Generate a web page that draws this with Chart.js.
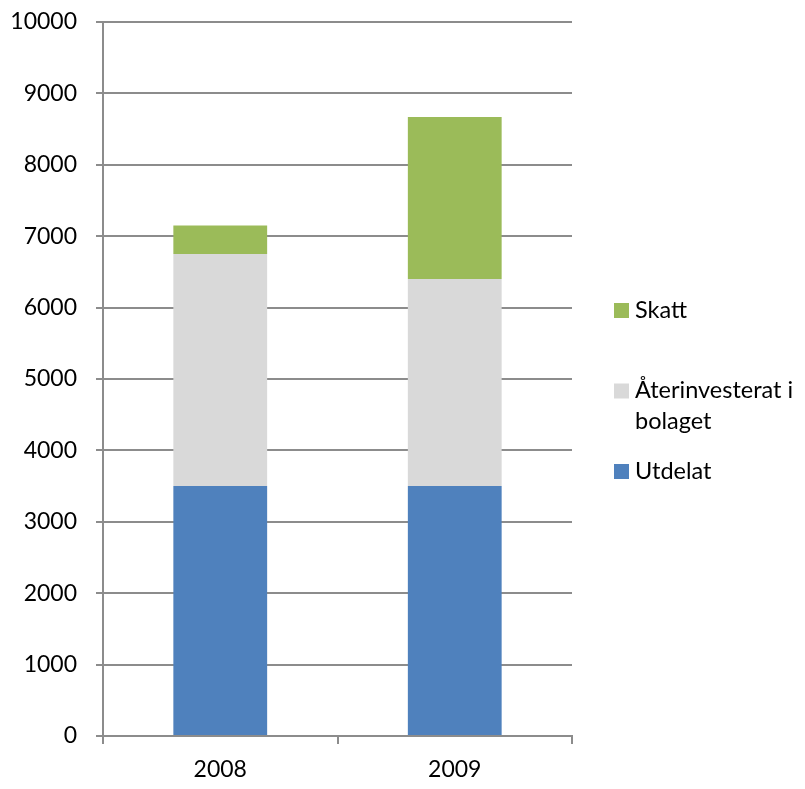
<!DOCTYPE html>
<html>
<head>
<meta charset="utf-8">
<script src="https://cdn.jsdelivr.net/npm/chart.js@4"></script>
<style>
  html, body { margin: 0; padding: 0; background: #fff; }
  #wrap { width: 805px; height: 789px; }
</style>
</head>
<body>
<div id="wrap"><canvas id="chart"></canvas></div>
<script>
// Kategorier och serier
const years = ["2008", "2009"];
const utdelat = [3500, 3500];
const aterinvesterat = [3250, 2900];
const skatt = [400, 2270];
const yTicks = [0, 1000, 2000, 3000, 4000, 5000, 6000, 7000, 8000, 9000, 10000];

const FONT = "Lato, 'Open Sans', sans-serif";
const gridColor = '#8c8c8c';

// Egen legend till höger, med radbrytning som i Excel
const sideLegend = {
  id: 'sideLegend',
  afterDraw(chart) {
    const ctx = chart.ctx;
    const area = chart.chartArea;
    const boxX = area.right + 42;
    const textX = boxX + 21;
    const maxW = chart.width - textX;
    let y = (area.top + area.bottom) / 2 - 69;
    ctx.save();
    ctx.font = '23.5px ' + FONT;
    ctx.textBaseline = 'middle';
    ctx.textAlign = 'left';
    const items = chart.data.datasets.slice().reverse();
    items.forEach(ds => {
      // bryt texten efter bredd
      const words = ds.label.split(' ');
      const lines = [];
      let line = '';
      words.forEach(w => {
        const test = line ? line + ' ' + w : w;
        if (ctx.measureText(test).width > maxW && line) {
          lines.push(line);
          line = w;
        } else {
          line = test;
        }
      });
      lines.push(line);
      ctx.fillStyle = ds.backgroundColor;
      ctx.fillRect(boxX, y - 7, 15, 15);
      ctx.fillStyle = '#000';
      lines.forEach((l, i) => ctx.fillText(l, textX, y + i * 31));
      y += 80.5;
    });
    ctx.restore();
  }
};

new Chart(document.getElementById('chart'), {
  type: 'bar',
  data: {
    labels: years,
    datasets: [
      { label: 'Utdelat', data: utdelat, backgroundColor: '#4F81BD' },
      { label: 'Återinvesterat i bolaget', data: aterinvesterat, backgroundColor: '#D9D9D9' },
      { label: 'Skatt', data: skatt, backgroundColor: '#9BBB59' }
    ].map(d => Object.assign(d, {
      barPercentage: 0.4,
      categoryPercentage: 1,
      borderWidth: 0
    }))
  },
  options: {
    responsive: true,
    maintainAspectRatio: false,
    animation: false,
    layout: { padding: { top: 22, right: 233, left: 0, bottom: 0 } },
    plugins: {
      legend: { display: false },
      tooltip: { enabled: false }
    },
    scales: {
      x: {
        stacked: true,
        grid: {
          offset: true,
          drawOnChartArea: false,
          drawTicks: true,
          tickLength: 8,
          color: gridColor,
          lineWidth: 2
        },
        border: { color: gridColor, width: 2 },
        ticks: { color: '#000', padding: 12, font: { family: FONT, size: 23 } },
        afterFit(scale) { scale.height = 53; }
      },
      y: {
        stacked: true,
        min: 0,
        max: 10000,
        afterBuildTicks(scale) { scale.ticks = yTicks.map(v => ({ value: v })); },
        grid: {
          color: gridColor,
          lineWidth: 2,
          tickLength: 7
        },
        border: { color: gridColor, width: 2 },
        ticks: {
          color: '#000',
          padding: 19,
          font: { family: FONT, size: 23 },
          callback: v => String(v)
        },
        afterFit(scale) {
          scale.width = 103;
          scale.paddingTop = 0;
          scale.paddingBottom = 0;
        }
      }
    }
  },
  plugins: [sideLegend]
});
</script>
</body>
</html>
